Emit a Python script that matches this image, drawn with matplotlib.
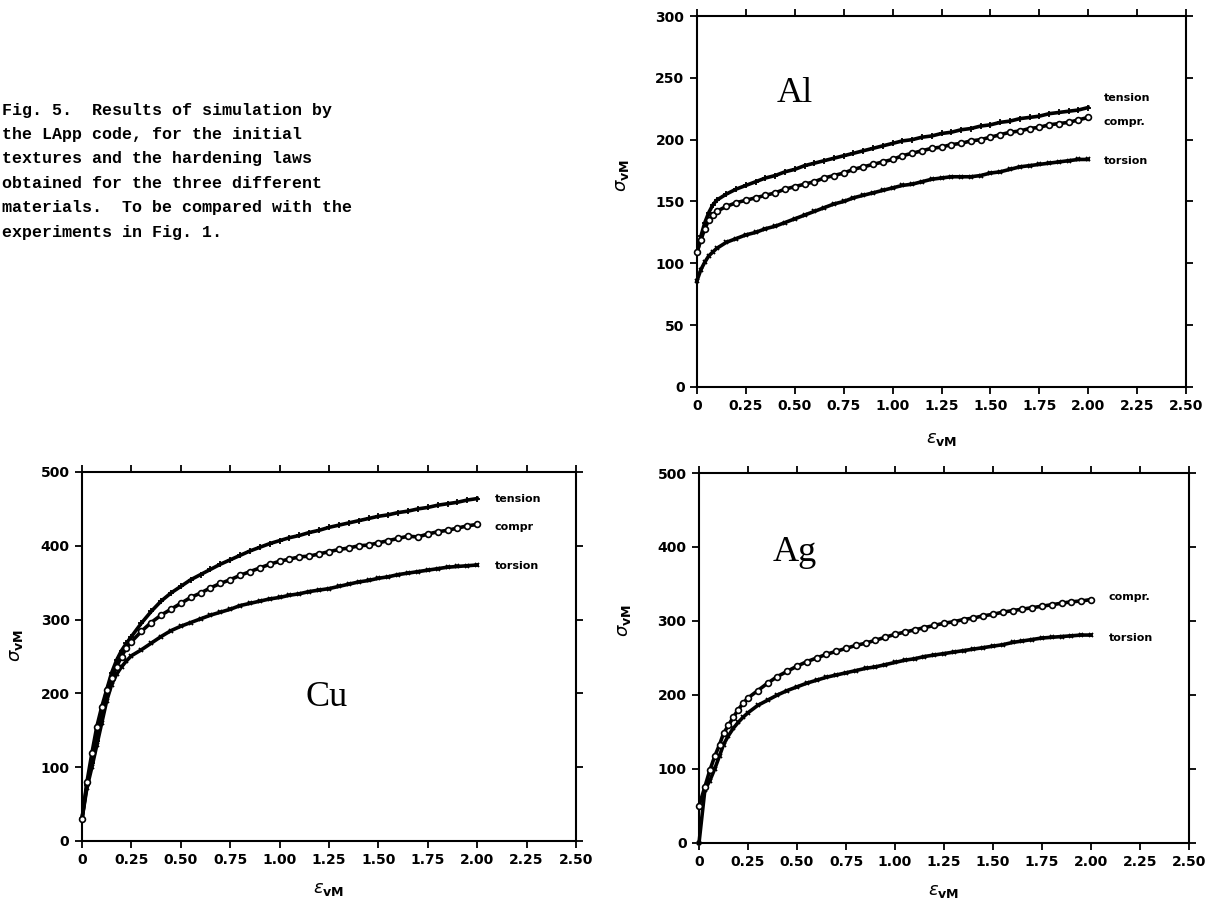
import numpy as np
import matplotlib
matplotlib.use("Agg")
import matplotlib.pyplot as plt

W, H = 1212, 899

# ---- data (strain eps_vM, stress sigma_vM) ----
al_eps = [0, 0.02, 0.04, 0.06, 0.08, 0.10, 0.15, 0.20, 0.25, 0.30, 0.35, 0.40, 0.45, 0.50,
          0.55, 0.60, 0.65, 0.70, 0.75, 0.80, 0.85, 0.90, 0.95, 1.00, 1.05, 1.10, 1.15, 1.20,
          1.25, 1.30, 1.35, 1.40, 1.45, 1.50, 1.55, 1.60, 1.65, 1.70, 1.75, 1.80, 1.85, 1.90,
          1.95, 2.00]
al_tension = [108, 122, 133, 141, 147, 151, 156, 160, 163, 166, 169, 171, 174, 176,
              179, 181, 183, 185, 187, 189, 191, 193, 195, 197, 199, 200, 202, 203,
              205, 206, 208, 209, 211, 212, 214, 215, 217, 218, 219, 221, 222, 223,
              224, 226]
al_compr = [109, 119, 128, 135, 139, 142, 146, 149, 151, 153, 155, 157, 160, 162,
            164, 166, 169, 171, 173, 176, 178, 180, 182, 184, 187, 189, 191, 193,
            194, 196, 197, 199, 200, 202, 204, 206, 207, 209, 210, 212, 213, 214,
            216, 218]
al_torsion = [86, 95, 101, 106, 109, 112, 117, 120, 123, 125, 128, 130, 133, 136,
              139, 142, 145, 148, 150, 153, 155, 157, 159, 161, 163, 164, 166, 168,
              169, 170, 170, 170, 171, 173, 174, 176, 178, 179, 180, 181, 182, 183,
              184, 184]

cu_eps = [0, 0.025, 0.05, 0.075, 0.10, 0.125, 0.15, 0.175, 0.20, 0.225, 0.25, 0.30, 0.35,
          0.40, 0.45, 0.50, 0.55, 0.60, 0.65, 0.70, 0.75, 0.80, 0.85, 0.90, 0.95, 1.00,
          1.05, 1.10, 1.15, 1.20, 1.25, 1.30, 1.35, 1.40, 1.45, 1.50, 1.55, 1.60, 1.65,
          1.70, 1.75, 1.80, 1.85, 1.90, 1.95, 2.00]
cu_tension = [30, 76, 106, 135, 172, 205, 228, 245, 258, 268, 277, 295, 311,
              325, 336, 345, 354, 361, 368, 375, 381, 387, 393, 398, 403, 407,
              411, 414, 418, 421, 425, 428, 431, 434, 437, 440, 442, 445, 447,
              450, 452, 455, 457, 459, 462, 464]
cu_compr = [30, 80, 119, 155, 182, 205, 221, 236, 250, 262, 270, 284, 296,
            306, 314, 322, 330, 336, 343, 349, 354, 360, 365, 370, 375, 379,
            382, 385, 386, 389, 392, 395, 397, 400, 401, 404, 407, 410, 413,
            412, 416, 419, 421, 424, 427, 429]
cu_torsion = [30, 72, 100, 130, 160, 190, 212, 226, 236, 244, 251, 259, 268,
              277, 285, 291, 296, 301, 306, 310, 314, 319, 322, 325, 328, 330,
              333, 335, 338, 340, 342, 345, 348, 351, 353, 356, 358, 361, 363,
              365, 367, 369, 371, 372, 373, 374]

ag_eps = [0, 0.03, 0.055, 0.08, 0.105, 0.125, 0.15, 0.175, 0.20, 0.225, 0.25, 0.30, 0.35,
          0.40, 0.45, 0.50, 0.55, 0.60, 0.65, 0.70, 0.75, 0.80, 0.85, 0.90, 0.95, 1.00,
          1.05, 1.10, 1.15, 1.20, 1.25, 1.30, 1.35, 1.40, 1.45, 1.50, 1.55, 1.60, 1.65,
          1.70, 1.75, 1.80, 1.85, 1.90, 1.95, 2.00]
ag_compr = [50, 76, 98, 117, 133, 148, 159, 170, 180, 189, 196, 206, 216,
            225, 232, 239, 245, 250, 255, 259, 263, 267, 270, 274, 278, 282,
            285, 288, 291, 294, 297, 299, 302, 304, 307, 309, 312, 314, 316,
            318, 320, 322, 324, 326, 327, 329]
ag_torsion = [0, 72, 84, 100, 118, 133, 145, 155, 163, 170, 176, 186, 193,
              200, 206, 211, 216, 220, 224, 227, 230, 233, 236, 238, 241, 244,
              247, 249, 252, 254, 256, 258, 260, 262, 264, 266, 268, 271, 273,
              275, 277, 278, 279, 280, 281, 281]

x_ticks = [0, 0.25, 0.5, 0.75, 1.0, 1.25, 1.5, 1.75, 2.0, 2.25, 2.5]
x_ticklabels = ["0", "0.25", "0.50", "0.75", "1.00", "1.25", "1.50", "1.75", "2.00", "2.25", "2.50"]

caption = ["Fig. 5.  Results of simulation by",
           "the LApp code, for the initial",
           "textures and the hardening laws",
           "obtained for the three different",
           "materials.  To be compared with the",
           "experiments in Fig. 1."]

STYLE = {
    "tension": dict(marker="+", ms=4, mew=1.3, lw=2.6, color="black", mfc="black"),
    "compr": dict(marker="o", ms=4.2, mew=1.2, lw=2.6, color="black", mfc="white"),
    "torsion": dict(marker="x", ms=3.5, mew=1.3, lw=2.6, color="black", mfc="black"),
}


def make_axes(px_left, px_right, px_top, px_bottom):
    return fig.add_axes([px_left / W, 1 - px_bottom / H,
                         (px_right - px_left) / W, (px_bottom - px_top) / H])


def style_panel(ax, ymax, ystep, ylab_x, ylab_y, xlab_y):
    ax.set_xlim(0, 2.5)
    ax.set_ylim(0, ymax)
    ax.set_xticks(x_ticks)
    ax.set_xticklabels(x_ticklabels)
    ax.set_yticks(np.arange(0, ymax + 1, ystep))
    ax.tick_params(direction="out", length=5, width=1.3, top=True, right=True,
                   labelsize=10, pad=4)
    for lab in ax.get_xticklabels() + ax.get_yticklabels():
        lab.set_fontweight("bold")
    for sp in ax.spines.values():
        sp.set_linewidth(1.5)
    ax.set_ylabel(r"$\sigma_{\mathbf{vM}}$", fontsize=13)
    ax.yaxis.set_label_coords(ylab_x, ylab_y)
    ax.set_xlabel(r"$\varepsilon_{\mathbf{vM}}$", fontsize=13)
    ax.xaxis.set_label_coords(0.5, xlab_y)


def draw(ax, eps, vals, kind):
    ax.plot(eps, vals, clip_on=False, zorder=3, **STYLE[kind])


fig = plt.figure(figsize=(W / 100, H / 100), dpi=100)

# caption text (typewriter)
for i, line in enumerate(caption):
    fig.text(2 / W, 1 - (110 + 24.4 * i) / H, line, family="Liberation Mono",
             fontweight="bold", fontsize=12, va="center", ha="left")

# ---- Al ----
ax = make_axes(697, 1186, 16, 387)
draw(ax, al_eps, al_tension, "tension")
draw(ax, al_eps, al_torsion, "torsion")
draw(ax, al_eps, al_compr, "compr")
style_panel(ax, 300, 50, -0.135, 0.57, -0.115)
ax.text(0.5, 237, "Al", family="Liberation Serif", fontsize=26, ha="center", va="center")
ax.text(2.08, 234, "tension", fontsize=8, fontweight="bold", va="center")
ax.text(2.08, 214, "compr.", fontsize=8, fontweight="bold", va="center")
ax.text(2.08, 183, "torsion", fontsize=8, fontweight="bold", va="center")

# ---- Cu ----
ax = make_axes(82, 576, 472, 841)
draw(ax, cu_eps, cu_tension, "tension")
draw(ax, cu_eps, cu_torsion, "torsion")
draw(ax, cu_eps, cu_compr, "compr")
style_panel(ax, 500, 100, -0.115, 0.53, -0.105)
ax.text(1.24, 195, "Cu", family="Liberation Serif", fontsize=26, ha="center", va="center")
ax.text(2.09, 463, "tension", fontsize=8, fontweight="bold", va="center")
ax.text(2.09, 425, "compr", fontsize=8, fontweight="bold", va="center")
ax.text(2.09, 373, "torsion", fontsize=8, fontweight="bold", va="center")

# ---- Ag ----
ax = make_axes(699, 1189, 473, 843)
draw(ax, ag_eps, ag_torsion, "torsion")
draw(ax, ag_eps, ag_compr, "compr")
style_panel(ax, 500, 100, -0.135, 0.6, -0.105)
ax.text(0.49, 392, "Ag", family="Liberation Serif", fontsize=26, ha="center", va="center")
ax.text(2.09, 333, "compr.", fontsize=8, fontweight="bold", va="center")
ax.text(2.09, 277, "torsion", fontsize=8, fontweight="bold", va="center")

fig.savefig("out.png", dpi=100)
